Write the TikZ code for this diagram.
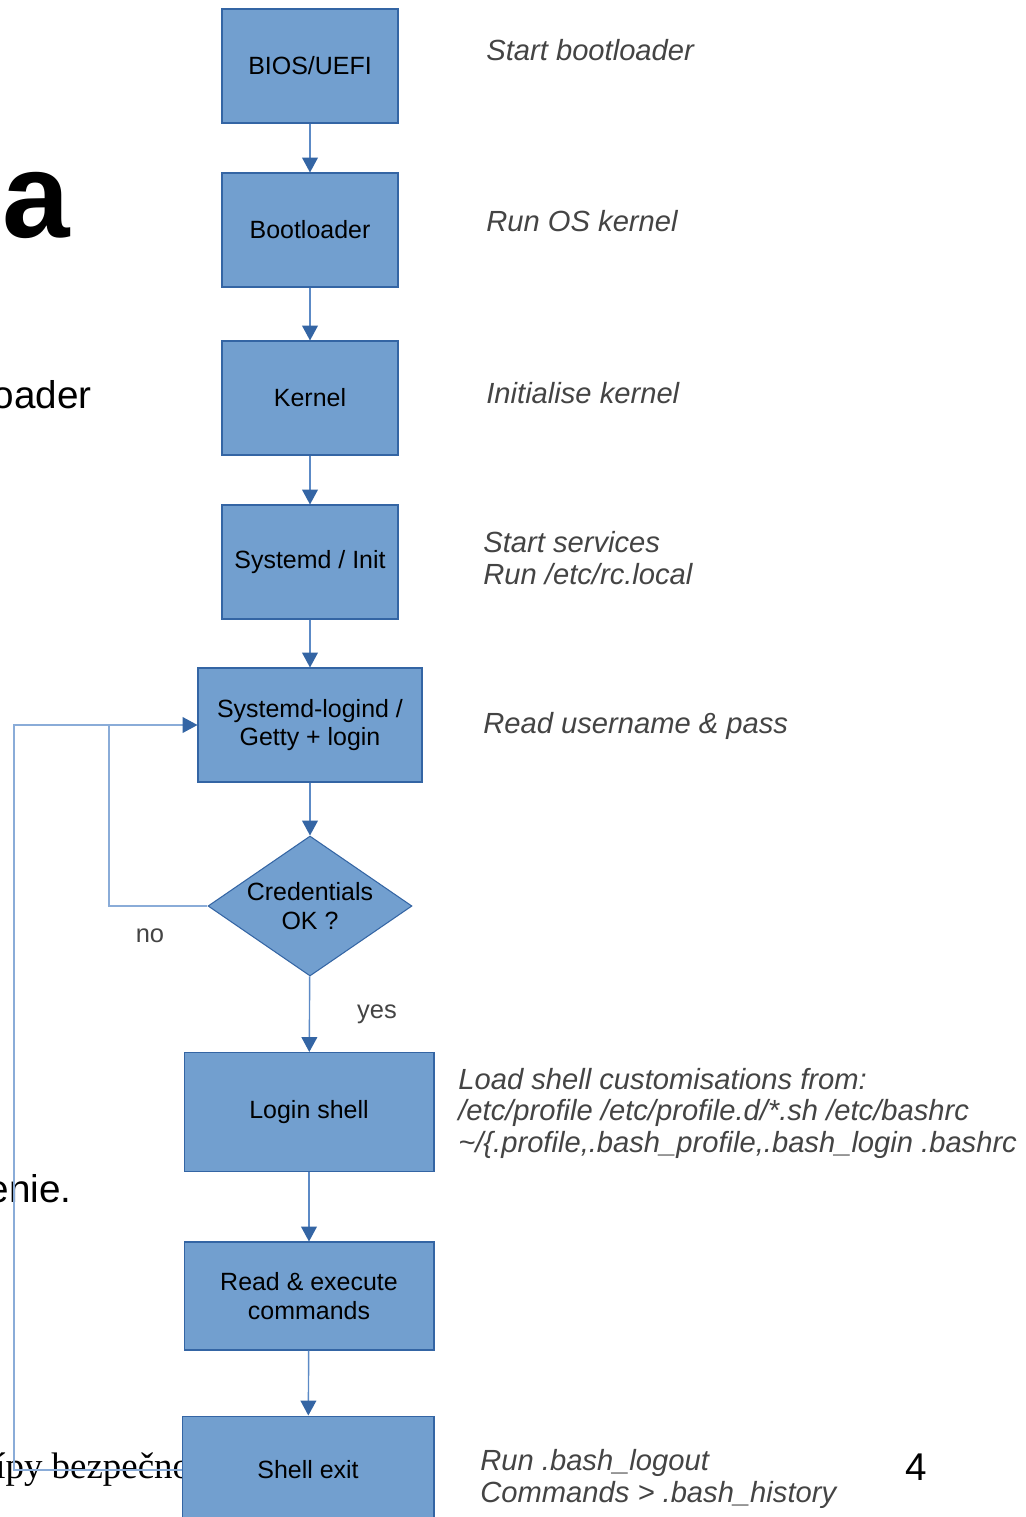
\documentclass[tikz,border=0pt]{standalone}
\usepackage{fontspec}
\setmainfont{Liberation Sans}
\newfontfamily\slideserif{Liberation Serif}
\usetikzlibrary{shapes.geometric,arrows.meta}
\definecolor{boxfill}{HTML}{729FCF}
\definecolor{boxline}{HTML}{3465A4}
\definecolor{flowline}{HTML}{5C8AC6}
\definecolor{loopline}{HTML}{8AACD8}
\definecolor{notegray}{HTML}{444444}

\begin{document}
\begin{tikzpicture}[
  x=0.02cm, y=-0.02cm,
  every node/.style={font=\fontsize{14.2}{16.4}\selectfont},
  stage/.style={draw=boxline, fill=boxfill, rectangle, line width=0.6pt,
                minimum width=3.52cm, minimum height=2.28cm, align=center,
                inner sep=2pt},
  check/.style={draw=boxline, fill=boxfill, diamond, aspect=1.46,
                line width=0.6pt, inner sep=0pt, minimum width=4.08cm,
                minimum height=2.8cm, align=center},
  flow/.style={draw=flowline, line width=0.8pt,
               -{Triangle[length=8.5pt,width=9pt,color=boxline]}},
  back/.style={draw=loopline, line width=0.7pt},
  note/.style={font=\fontsize{16.6}{17.9}\selectfont\itshape, text=notegray,
               align=left, anchor=west, inner sep=0pt},
  frag/.style={anchor=base east, inner sep=0pt,
               font=\fontsize{22}{26}\selectfont},
]

%% ── Page frame and slide fragments behind ───────────────────────────────────
\useasboundingbox (0,0) rectangle (1026,1517);
\clip (0,0) rectangle (1026,1517);
\fill[white] (0,0) rectangle (1026,1517);

\node[frag, font=\fontsize{69}{72}\selectfont\bfseries] (fraga) at (70,237) {a};
\node[frag] (fragoader) at (92,408) {oader};
\node[frag] (fragenie) at (72,1202) {enie.};
\node[anchor=base west, inner sep=0pt, font=\fontsize{21}{24}\slideserif]
  (fragserif) at (-5,1478) {ípy bezpečno};
\node[anchor=base, inner sep=0pt, font=\fontsize{22}{26}\selectfont]
  (pagenum) at (916,1480) {4};

%% ── Boot stages ──────────────────────────────────────────────────────────────
\node[stage] (bios) at (310,66) {BIOS/UEFI};
\node[stage] (boot) at (310,230) {Bootloader};
\node[stage] (kernel) at (310,398) {Kernel};
\node[stage] (init) at (310,562) {Systemd / Init};
\node[stage, minimum width=4.48cm] (logind) at (310,725)
  {Systemd-logind /\\Getty + login};
\node[check] (cred) at (310,906) {Credentials\\OK ?};

%% ── Shell stages ─────────────────────────────────────────────────────────────
\node[stage, minimum width=5cm, minimum height=2.38cm] (login) at (309,1112)
  {Login shell};
\node[stage, minimum width=5cm, minimum height=2.16cm] (exec) at (309,1296)
  {Read \& execute\\commands};
\node[stage, minimum width=5.04cm, minimum height=2.16cm] (exit) at (308,1470)
  {Shell exit};

%% ── Main flow ────────────────────────────────────────────────────────────────
\draw[flow] (bios) -- (boot);
\draw[flow] (boot) -- (kernel);
\draw[flow] (kernel) -- (init);
\draw[flow] (init) -- (logind);
\draw[flow] (logind) -- (cred);
\draw[flow] (cred) -- (login);
\draw[flow] (login) -- (exec);
\draw[flow] (exec) -- (exit);

%% ── Return paths ─────────────────────────────────────────────────────────────
\coordinate (nocorner) at (109,725);
\coordinate (exitcorner) at (14,1470);
\draw[back] (cred.west) -| (nocorner);
\draw[back] (exit.west) -- (exitcorner) |- (nocorner);
\draw[back, -{Triangle[length=8.5pt,width=9pt,color=boxline]}]
  (nocorner) -- (logind.west);

\node[text=notegray, font=\fontsize{14.5}{17}\selectfont] (nolabel)
  at (150,936) {no};
\node[text=notegray, font=\fontsize{14.5}{17}\selectfont] (yeslabel)
  at (377,1014) {yes};

%% ── Notes ────────────────────────────────────────────────────────────────────
\node[note] (n1) at (486,50) {Start bootloader};
\node[note] (n2) at (486,221) {Run OS kernel};
\node[note] (n3) at (486,393) {Initialise kernel};
\node[note] (n4) at (483,558) {Start services\\Run /etc/rc.local};
\node[note] (n5) at (483,726) {Read username \& pass};
\node[note] (n6) at (458,1113)
  {Load shell customisations from:\\
   /etc/profile /etc/profile.d/*.sh /etc/bashrc\\
   \textasciitilde/\{.profile,.bash\_profile,.bash\_login .bashrc};
\node[note] (n7) at (480,1479) {Run .bash\_logout\\Commands > .bash\_history};

\end{tikzpicture}
\end{document}
